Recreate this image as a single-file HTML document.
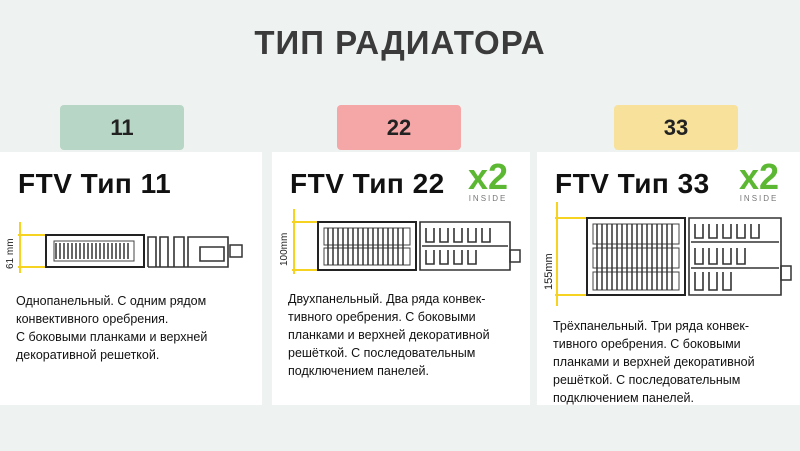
<!DOCTYPE html><html><head><meta charset="utf-8"><style>
body{margin:0;width:800px;height:451px;background:#eef3f1;font-family:"Liberation Sans",sans-serif;position:relative;overflow:hidden}
.t{position:absolute;left:0;width:800px;top:24px;text-align:center;font-weight:bold;font-size:33px;color:#3b3b3b;letter-spacing:1px}
.b{position:absolute;top:105px;width:124px;height:45px;border-radius:4px;text-align:center;line-height:45px;font-weight:bold;font-size:22px;color:#222}
.c{position:absolute;top:152px;height:253px;background:#fff}
.h{position:absolute;font-weight:bold;font-size:28px;color:#111;top:16px;letter-spacing:.5px}
.p{position:absolute;font-size:12.5px;line-height:18px;color:#111}
.x{position:absolute;top:8px;text-align:center;color:#5cb832;font-weight:bold;font-size:36px;line-height:34px}
.x span{display:block;color:#777;font-size:8px;font-weight:normal;letter-spacing:2px;line-height:10px}
svg{position:absolute}
</style></head><body>
<div class="t">ТИП РАДИАТОРА</div>
<div class="b" style="left:60px;background:#b8d6c5">11</div>
<div class="b" style="left:337px;background:#f5a6a6">22</div>
<div class="b" style="left:614px;background:#f7e19b">33</div>

<div class="c" style="left:0;width:262px">
<div class="h" style="left:18px">FTV Тип 11</div>
<svg style="left:0;top:65px" width="262" height="60">
<line x1="20" y1="5" x2="20" y2="56" stroke="#f5d320" stroke-width="2"/>
<line x1="18" y1="18" x2="46" y2="18" stroke="#f5d320" stroke-width="2"/><line x1="18" y1="50" x2="46" y2="50" stroke="#f5d320" stroke-width="2"/>
<text x="13" y="52" font-size="10" transform="rotate(-90 13 52)" fill="#222">61 mm</text>
<rect x="46" y="18" width="98" height="32" fill="none" stroke="#222" stroke-width="2"/>
<rect x="54" y="24" width="80" height="20" fill="none" stroke="#444"/>
<path d="M56 26v16M60 26v16M64 26v16M68 26v16M72 26v16M76 26v16M80 26v16M84 26v16M88 26v16M92 26v16M96 26v16M100 26v16M104 26v16M108 26v16M112 26v16M116 26v16M120 26v16M124 26v16M128 26v16" stroke="#333" stroke-width="1.5"/>
<path d="M148 50V20h8v30M160 50V20h8v30M174 50V20h10v30M188 50V20h40v30H148M200 30h24v14h-24z" fill="none" stroke="#333" stroke-width="1.6"/>
<rect x="230" y="28" width="12" height="12" fill="none" stroke="#333" stroke-width="1.5"/>
</svg>
<div class="p" style="left:16px;top:140px">Однопанельный. С одним рядом<br>конвективного оребрения.<br>С боковыми планками и верхней<br>декоративной решеткой.</div>
</div>

<div class="c" style="left:272px;width:258px">
<div class="h" style="left:18px">FTV Тип 22</div>
<div class="x" style="left:196px">x2<span>INSIDE</span></div>
<svg style="left:0;top:52px" width="258" height="80">
<line x1="22" y1="5" x2="22" y2="70" stroke="#f5d320" stroke-width="2"/>
<line x1="20" y1="18" x2="46" y2="18" stroke="#f5d320" stroke-width="2"/><line x1="20" y1="66" x2="46" y2="66" stroke="#f5d320" stroke-width="2"/>
<text x="15" y="62" font-size="10" transform="rotate(-90 15 62)" fill="#222">100mm</text>
<rect x="46" y="18" width="98" height="48" fill="none" stroke="#222" stroke-width="2"/>
<rect x="52" y="24" width="86" height="17" fill="none" stroke="#444"/><rect x="52" y="44" width="86" height="17" fill="none" stroke="#444"/>
<path d="M56 24v37M61 24v37M66 24v37M71 24v37M76 24v37M81 24v37M86 24v37M91 24v37M96 24v37M101 24v37M106 24v37M111 24v37M116 24v37M121 24v37M126 24v37M131 24v37" stroke="#333" stroke-width="1.5"/>
<path d="M148 66V18h90v48zM150 42h86M154 24v14h8V24M168 24v14h8V24M182 24v14h8V24M196 24v14h8V24M210 24v14h8V24M154 46v14h8V46M168 46v14h8V46M182 46v14h8V46M196 46v14h8V46" fill="none" stroke="#333" stroke-width="1.6"/>
<rect x="238" y="46" width="10" height="12" fill="none" stroke="#333" stroke-width="1.5"/>
</svg>
<div class="p" style="left:16px;top:138px">Двухпанельный. Два ряда конвек-<br>тивного оребрения. С боковыми<br>планками и верхней декоративной<br>решёткой. С последовательным<br>подключением панелей.</div>
</div>

<div class="c" style="left:537px;width:263px">
<div class="h" style="left:18px">FTV Тип 33</div>
<div class="x" style="left:202px">x2<span>INSIDE</span></div>
<svg style="left:0;top:48px" width="263" height="110">
<line x1="20" y1="2" x2="20" y2="106" stroke="#f5d320" stroke-width="2"/>
<line x1="18" y1="18" x2="50" y2="18" stroke="#f5d320" stroke-width="2"/><line x1="18" y1="95" x2="50" y2="95" stroke="#f5d320" stroke-width="2"/>
<text x="15" y="90" font-size="11" transform="rotate(-90 15 90)" fill="#222">155mm</text>
<rect x="50" y="18" width="98" height="77" fill="none" stroke="#222" stroke-width="2"/>
<rect x="56" y="24" width="86" height="20" fill="none" stroke="#444"/><rect x="56" y="48" width="86" height="20" fill="none" stroke="#444"/><rect x="56" y="72" width="86" height="18" fill="none" stroke="#444"/>
<path d="M60 24v66M65 24v66M70 24v66M75 24v66M80 24v66M85 24v66M90 24v66M95 24v66M100 24v66M105 24v66M110 24v66M115 24v66M120 24v66M125 24v66M130 24v66M135 24v66" stroke="#333" stroke-width="1.5"/>
<path d="M152 95V18h92v77zM154 42h88M154 68h88M158 24v14h8V24M172 24v14h8V24M186 24v14h8V24M200 24v14h8V24M214 24v14h8V24M158 48v16h8V48M172 48v16h8V48M186 48v16h8V48M200 48v16h8V48M158 72v18h8V72M172 72v18h8V72M186 72v18h8V72" fill="none" stroke="#333" stroke-width="1.6"/>
<rect x="244" y="66" width="10" height="14" fill="none" stroke="#333" stroke-width="1.5"/>
</svg>
<div class="p" style="left:16px;top:165px">Трёхпанельный. Три ряда конвек-<br>тивного оребрения. С боковыми<br>планками и верхней декоративной<br>решёткой. С последовательным<br>подключением панелей.</div>
</div>
</body></html>
